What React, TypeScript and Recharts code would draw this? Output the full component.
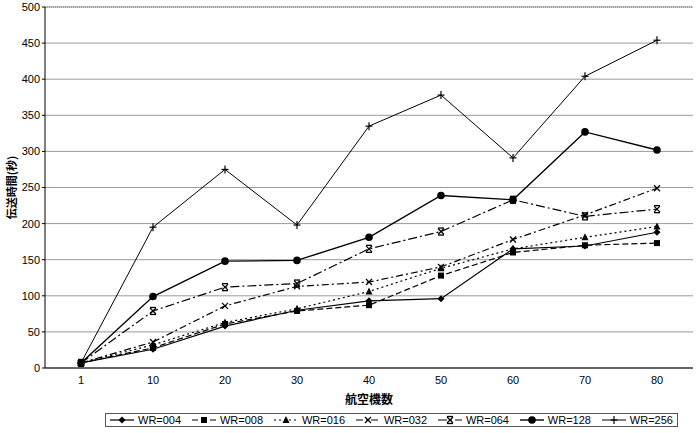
import React from 'react';
import { LineChart, Line, XAxis, YAxis, CartesianGrid, Legend, ReferenceLine } from 'recharts';

if (typeof document !== 'undefined') document.body.style.margin = '0';

const categories = ['1', '10', '20', '30', '40', '50', '60', '70', '80'];
const yTicks = [0, 50, 100, 150, 200, 250, 300, 350, 400, 450, 500];

const wr004 = [7, 26, 58, 80, 93, 96, 165, 169, 188];
const wr008 = [7, 28, 61, 79, 87, 128, 160, 170, 173];
const wr016 = [7, 32, 63, 82, 106, 138, 165, 181, 196];
const wr032 = [7, 36, 86, 113, 119, 140, 178, 212, 249];
const wr064 = [7, 79, 112, 117, 165, 189, 233, 210, 220];
const wr128 = [7, 99, 148, 149, 181, 239, 233, 327, 302];
const wr256 = [7, 195, 275, 198, 335, 378, 291, 404, 454];

const series = [
    { key: 'wr004', name: 'WR=004', values: wr004, dash: undefined, shape: 'diamond', width: 1.2 },
    { key: 'wr008', name: 'WR=008', values: wr008, dash: '6 3', shape: 'square', width: 1.2 },
    { key: 'wr016', name: 'WR=016', values: wr016, dash: '2 3', shape: 'triangle', width: 1.2 },
    { key: 'wr032', name: 'WR=032', values: wr032, dash: '7 3 2 3', shape: 'cross', width: 1.2 },
    { key: 'wr064', name: 'WR=064', values: wr064, dash: '9 3 2 3', shape: 'star', width: 1.2 },
    { key: 'wr128', name: 'WR=128', values: wr128, dash: undefined, shape: 'circle', width: 1.4 },
    { key: 'wr256', name: 'WR=256', values: wr256, dash: undefined, shape: 'plus', width: 1 },
];

const data = categories.map((c, i) => {
    const row: any = { name: c };
    series.forEach((s) => (row[s.key] = s.values[i]));
    return row;
});

const FONT = '"Liberation Sans", Arial, sans-serif';
const JP = '"Noto Sans CJK JP", sans-serif';

function Marker({ shape, cx, cy }: { shape: string; cx: number; cy: number }) {
    const s = 3.5;
    switch (shape) {
        case 'diamond':
            return <polygon points={`${cx},${cy - s} ${cx + s},${cy} ${cx},${cy + s} ${cx - s},${cy}`} fill="#000" />;
        case 'square':
            return <rect x={cx - 3} y={cy - 3} width={6} height={6} fill="#000" />;
        case 'triangle':
            return <polygon points={`${cx},${cy - 4} ${cx + 3.5},${cy + 3} ${cx - 3.5},${cy + 3}`} fill="#000" />;
        case 'cross':
            return (
                <g stroke="#000" strokeWidth={1.3}>
                    <line x1={cx - 3} y1={cy - 3} x2={cx + 3} y2={cy + 3} />
                    <line x1={cx - 3} y1={cy + 3} x2={cx + 3} y2={cy - 3} />
                </g>
            );
        case 'star':
            return (
                <g stroke="#000" strokeWidth={1.3}>
                    <line x1={cx - 3} y1={cy - 3} x2={cx + 3} y2={cy + 3} />
                    <line x1={cx - 3} y1={cy + 3} x2={cx + 3} y2={cy - 3} />
                    <line x1={cx - 3} y1={cy - 3.5} x2={cx + 3} y2={cy - 3.5} />
                    <line x1={cx - 3} y1={cy + 3.5} x2={cx + 3} y2={cy + 3.5} />
                </g>
            );
        case 'circle':
            return <circle cx={cx} cy={cy} r={3.8} fill="#000" />;
        case 'plus':
            return (
                <g stroke="#000" strokeWidth={1.2}>
                    <line x1={cx - 3.5} y1={cy} x2={cx + 3.5} y2={cy} />
                    <line x1={cx} y1={cy - 4} x2={cx} y2={cy + 4} />
                </g>
            );
        default:
            return null;
    }
}

const renderDot = (shape: string) => (props: any) => {
    const { cx, cy, index } = props;
    if (cx == null || cy == null) return <g key={index} />;
    return (
        <g key={index}>
            <Marker shape={shape} cx={cx} cy={cy} />
        </g>
    );
};

const InsideTick = (props: any) => {
    const { x, y } = props;
    return <line x1={x} x2={x} y1={y} y2={y - 4} stroke="#444" strokeWidth={1} />;
};

const YTitle = (props: any) => {
    const { viewBox } = props;
    const x = viewBox.x + 11;
    const y = viewBox.y + viewBox.height / 2;
    return (
        <text x={x} y={y} transform={`rotate(-90 ${x} ${y})`} textAnchor="middle" dominantBaseline="central"
            fontFamily={JP} fontSize={11} fontWeight="bold" fill="#000">
            伝送時間(秒)
        </text>
    );
};

const LegendBox = () => (
    <div style={{ marginTop: 5, height: 14, border: '1px solid #555', display: 'flex', alignItems: 'center',
        justifyContent: 'space-between', padding: '0 4px', fontFamily: FONT, fontSize: 11, color: '#000', boxSizing: 'border-box' }}>
        {series.map((s) => (
            <div key={s.key} style={{ display: 'flex', alignItems: 'center' }}>
                <svg width={24} height={10}>
                    <line x1={0} x2={24} y1={5} y2={5} stroke="#000" strokeWidth={s.width} strokeDasharray={s.dash} />
                    <Marker shape={s.shape} cx={12} cy={5} />
                </svg>
                <span style={{ marginLeft: 4 }}>{s.name}</span>
            </div>
        ))}
    </div>
);

export default function App() {
    return (
        <div style={{ width: 700, height: 433, background: '#fff' }}>
            <LineChart width={700} height={433} data={data} margin={{ top: 7, right: 7, left: 0, bottom: 0 }}>
                <CartesianGrid vertical={false} stroke="#9a9a9a" strokeWidth={1} />
                <XAxis dataKey="name" tickLine={false} tickSize={0} tickMargin={8} height={40}
                    padding={{ left: 36, right: 36 }} axisLine={{ stroke: '#000' }}
                    tick={{ fontSize: 11, fill: '#000', fontFamily: FONT }}
                    label={{ value: '航空機数', position: 'insideBottom', offset: 4, fontSize: 12, fontWeight: 'bold', fill: '#000', fontFamily: JP }} />
                <XAxis xAxisId="bands" type="number" domain={[0, 9]} ticks={[1, 2, 3, 4, 5, 6, 7, 8]}
                    axisLine={false} tickLine={false} tickSize={0} tickMargin={0} height={0} tick={<InsideTick />} />
                <YAxis domain={[0, 500]} ticks={yTicks} width={45} tickSize={3} tickLine={{ stroke: '#000' }}
                    axisLine={{ stroke: '#000' }} tick={{ fontSize: 11, fill: '#000', fontFamily: FONT }}
                    label={<YTitle />} />
                <YAxis yAxisId="right" orientation="right" width={0} tick={false} tickLine={false}
                    axisLine={{ stroke: '#777', strokeDasharray: '1 1' }} />
                <ReferenceLine y={500} stroke="#777" strokeDasharray="1 1" />
                {series.map((s) => (
                    <Line key={s.key} type="linear" dataKey={s.key} name={s.name} stroke="#000"
                        strokeWidth={s.width} strokeDasharray={s.dash} dot={renderDot(s.shape)}
                        activeDot={false} isAnimationActive={false} />
                ))}
                <Legend verticalAlign="bottom" content={<LegendBox />}
                    wrapperStyle={{ left: 105, width: 573, height: 25, bottom: 0 }} />
            </LineChart>
        </div>
    );
}
